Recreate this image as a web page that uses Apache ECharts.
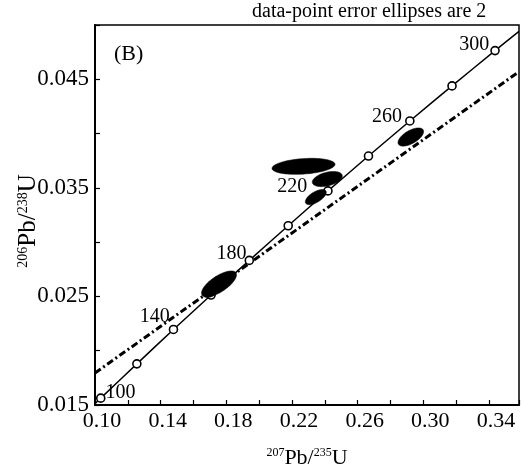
<!DOCTYPE html>
<html>
<head>
<meta charset="utf-8">
<script src="https://cdn.jsdelivr.net/npm/echarts@6/dist/echarts.min.js"></script>
<style>
  html, body { margin: 0; padding: 0; background: #fff; }
  #chart { width: 522px; height: 468px; }
</style>
</head>
<body>
<div id="chart"></div>
<script>
// Concordia reference points (age in Ma, 207Pb/235U, 206Pb/238U)
const ages = [100, 120, 140, 160, 180, 200, 220, 240, 260, 280, 300];
const concordiaX = [0.1035, 0.1255, 0.1478, 0.1707, 0.1940, 0.2177, 0.2419, 0.2666, 0.2918, 0.3175, 0.3437];
const concordiaY = [0.01563, 0.01879, 0.02196, 0.02513, 0.02832, 0.03151, 0.03472, 0.03793, 0.04116, 0.04439, 0.04764];
// Where the concordia curve meets the frame
const curveStart = [0.1000, 0.01513];
const curveEnd = [0.3583, 0.04942];
// Ages that carry a text label
const labeledAges = [100, 140, 180, 220, 260, 300];

// Discordia (dash-dot) line end points
const discordiaX = [0.1000, 0.3583];
const discordiaY = [0.01795, 0.04570];

// Analyses as error ellipses: centre x, centre y, half-width x, half-height y, correlation
const ellipseX   = [0.22702, 0.24152, 0.23451, 0.29239, 0.17554, 0.17067];
const ellipseY   = [0.036982, 0.035811, 0.034152, 0.039682, 0.026152, 0.025599];
const ellipseSX  = [0.01919, 0.00914, 0.00640, 0.00780, 0.01066, 0.00520];
const ellipseSY  = [0.000740, 0.000700, 0.000700, 0.000840, 0.001198, 0.000700];
const ellipseRho = [0.25, 0.40, 0.62, 0.60, 0.70, 0.40];

// Axis tick labels
const xTickLabels = ['0.10', '0.14', '0.18', '0.22', '0.26', '0.30', '0.34'];
const yTickLabels = ['0.015', '0.025', '0.035', '0.045'];

const FONT = '"Liberation Serif", "DejaVu Serif", serif';

// label placement around each labelled marker
const labelPlacement = {
  100: { position: 'right', offset: [0, -5] },
  140: { position: 'left', offset: [1, -13] },
  180: { position: 'left', offset: [2, -7] },
  220: { position: 'left', offset: [-16, -4] },
  260: { position: 'left', offset: [-3, -4] },
  300: { position: 'left', offset: [-1, -6] }
};

const curveData = [curveStart].concat(
  ages.map((a, i) => [concordiaX[i], concordiaY[i]]),
  [curveEnd]
);

const markerData = ages.map((a, i) => {
  const item = { value: [concordiaX[i], concordiaY[i]], name: String(a) };
  if (labeledAges.indexOf(a) >= 0) {
    const p = labelPlacement[a];
    item.label = {
      show: true,
      position: p.position,
      distance: 0,
      offset: p.offset,
      formatter: String(a),
      fontFamily: FONT,
      fontSize: 20,
      color: '#000',
      opacity: 1
    };
  }
  return item;
});

const discordiaData = discordiaX.map((x, i) => [x, discordiaY[i]]);
const ellipseData = ellipseX.map((x, i) => [x, ellipseY[i], ellipseSX[i], ellipseSY[i], ellipseRho[i]]);

function renderEllipse(params, api) {
  const cx = api.value(0), cy = api.value(1);
  const sx = api.value(2), sy = api.value(3), rho = api.value(4);
  const k = Math.sqrt(1 - rho * rho);
  const pts = [];
  const n = 90;
  for (let i = 0; i < n; i++) {
    const t = (i / n) * Math.PI * 2;
    const c = Math.cos(t), s = Math.sin(t);
    pts.push(api.coord([cx + sx * c, cy + sy * (rho * c + k * s)]));
  }
  return {
    type: 'polygon',
    shape: { points: pts },
    style: { fill: '#000', stroke: '#000', lineWidth: 0.5 }
  };
}

const chart = echarts.init(document.getElementById('chart'), null, { renderer: 'canvas' });

chart.setOption({
  animation: false,
  backgroundColor: '#fff',
  title: {
    text: 'data-point error ellipses are 2',
    left: 252,
    top: 2,
    padding: 0,
    textStyle: { fontFamily: FONT, fontSize: 20, fontWeight: 'normal', color: '#000' }
  },
  graphic: [{
    type: 'text',
    left: 114,
    top: 43,
    style: { text: '(B)', font: '22px ' + FONT, fill: '#000' }
  }],
  grid: {
    left: 95, right: 3, top: 25, bottom: 63,
    outerBoundsMode: 'none',
    containLabel: false,
    show: true, borderColor: '#000', borderWidth: 1.5, backgroundColor: 'transparent'
  },
  xAxis: {
    type: 'value',
    min: 0.10, max: 0.3583, interval: 0.02,
    name: '{s|207}{m|Pb/}{s|235}{m|U}',
    nameLocation: 'middle',
    nameGap: 42,
    nameMoveOverlap: false,
    nameTextStyle: {
      rich: {
        s: { fontFamily: FONT, fontSize: 12, verticalAlign: 'top', color: '#000' },
        m: { fontFamily: FONT, fontSize: 22, color: '#000' }
      }
    },
    axisLine: { show: true, lineStyle: { color: '#000', width: 2 } },
    axisTick: { show: true, inside: true, length: 5, lineStyle: { color: '#000', width: 1.2 } },
    axisLabel: {
      fontFamily: FONT, fontSize: 22, color: '#000', margin: 5,
      padding: [0, 0, 0, 14],
      formatter: v => { const t = v.toFixed(2); return xTickLabels.indexOf(t) >= 0 ? t : ''; }
    },
    splitLine: { show: false }
  },
  yAxis: {
    type: 'value',
    min: 0.015, max: 0.050, interval: 0.005,
    name: '{s|206}{m|Pb/}{s|238}{m|U}',
    nameLocation: 'middle',
    nameRotate: 90,
    nameGap: 54,
    nameMoveOverlap: false,
    nameTextStyle: {
      padding: [0, 12, 0, 0],
      rich: {
        s: { fontFamily: FONT, fontSize: 14, verticalAlign: 'top', color: '#000' },
        m: { fontFamily: FONT, fontSize: 25, color: '#000' }
      }
    },
    axisLine: { show: true, lineStyle: { color: '#000', width: 2 } },
    axisTick: { show: true, inside: true, length: 5, lineStyle: { color: '#000', width: 1.2 } },
    axisLabel: {
      fontFamily: FONT, fontSize: 23, color: '#000', margin: 6,
      formatter: v => { const t = v.toFixed(3); return yTickLabels.indexOf(t) >= 0 ? t : ''; }
    },
    splitLine: { show: false }
  },
  series: [
    {
      name: 'discordia',
      type: 'line',
      data: discordiaData,
      symbol: 'none',
      lineStyle: { color: '#000', width: 3, type: [7, 3, 2, 3] },
      z: 2,
      silent: true
    },
    {
      name: 'concordia',
      type: 'line',
      data: curveData,
      symbol: 'none',
      smooth: 0.2,
      lineStyle: { color: '#000', width: 1.5 },
      z: 3,
      silent: true
    },
    {
      name: 'age markers',
      type: 'scatter',
      data: markerData,
      symbol: 'circle',
      symbolSize: 8,
      itemStyle: { color: '#fff', borderColor: '#000', borderWidth: 1.6, opacity: 1 },
      z: 4,
      silent: true
    },
    {
      name: 'analyses',
      type: 'custom',
      renderItem: renderEllipse,
      data: ellipseData,
      encode: { x: 0, y: 1 },
      z: 5,
      silent: true
    }
  ]
});
</script>
</body>
</html>
